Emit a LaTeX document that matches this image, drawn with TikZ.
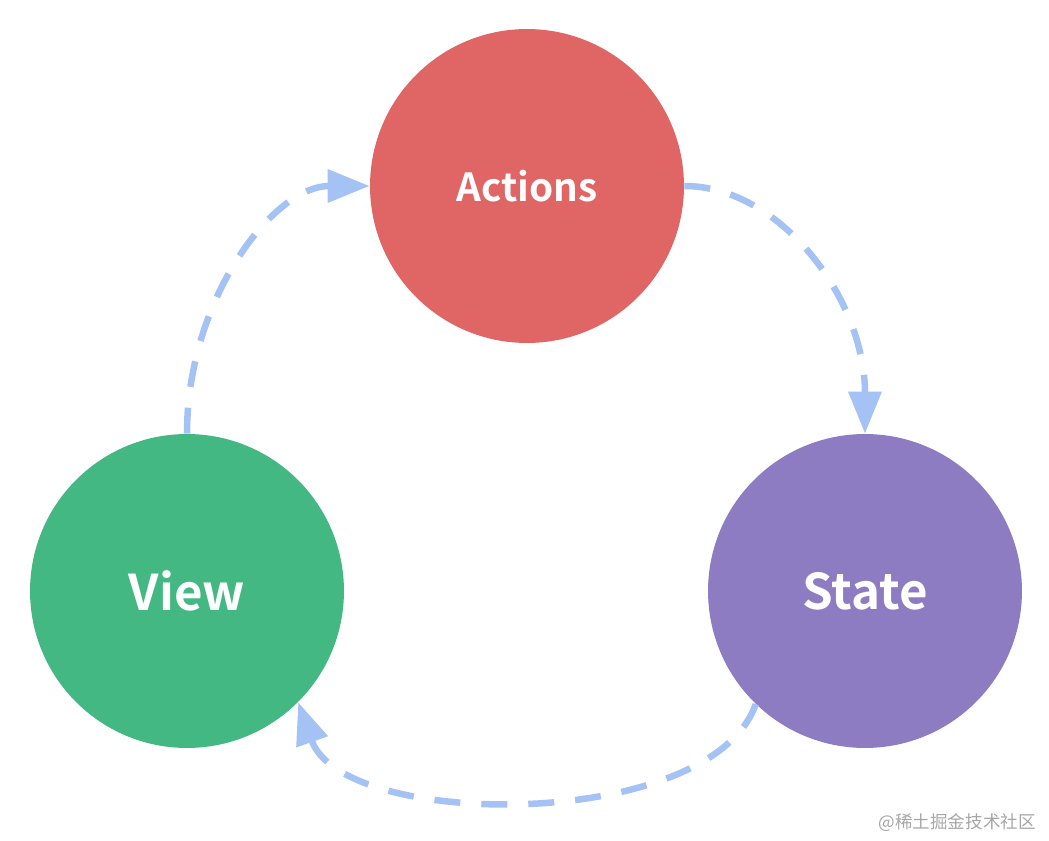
\documentclass[tikz,border=0pt]{standalone}
\usepackage{fontspec}
\setmainfont{Noto Sans CJK SC}[BoldFont={Noto Sans CJK SC Bold}]
\newfontfamily\cjk{Noto Sans CJK SC}
\usetikzlibrary{arrows.meta}
\definecolor{actred}{HTML}{E06666}
\definecolor{viewgreen}{HTML}{43B883}
\definecolor{statepurple}{HTML}{8E7CC3}
\definecolor{flowblue}{HTML}{A4C2F4}

\begin{document}
\begin{tikzpicture}[
  x=0.02cm, y=-0.02cm,
  stage/.style={circle, minimum size=6.28cm, inner sep=0pt, text=white,
                font=\bfseries\fontsize{28}{32}\selectfont},
  flow/.style={draw=flowblue, line width=0.13cm, dash pattern=on 0.52cm off 0.42cm,
               -{Triangle[length=0.84cm, width=0.64cm]}}
]
  \useasboundingbox (0,0) rectangle (1049,841);

  \node[stage, fill=actred, font=\bfseries\fontsize{22}{26}\selectfont]
        (act)   at (527,186) {Actions};
  \node[stage, fill=viewgreen]   (view)  at (187,591) {View};
  \node[stage, fill=statepurple] (state) at (865,591) {State};

  % one-way data flow
  \draw[flow] (act.east) .. controls +(96,0) and +(0,-135) .. (state.north);
  \draw[flow] (state.226) .. controls +(-45,128) and +(45,128) .. (view.315);
  \draw[flow] (view.north) .. controls +(0,-135) and +(-96,0) .. (act.west);

  \node[anchor=east, text=black!35, font=\cjk\fontsize{10}{12}\selectfont]
        (mark) at (1042,823) {@稀土掘金技术社区};
\end{tikzpicture}
\end{document}
